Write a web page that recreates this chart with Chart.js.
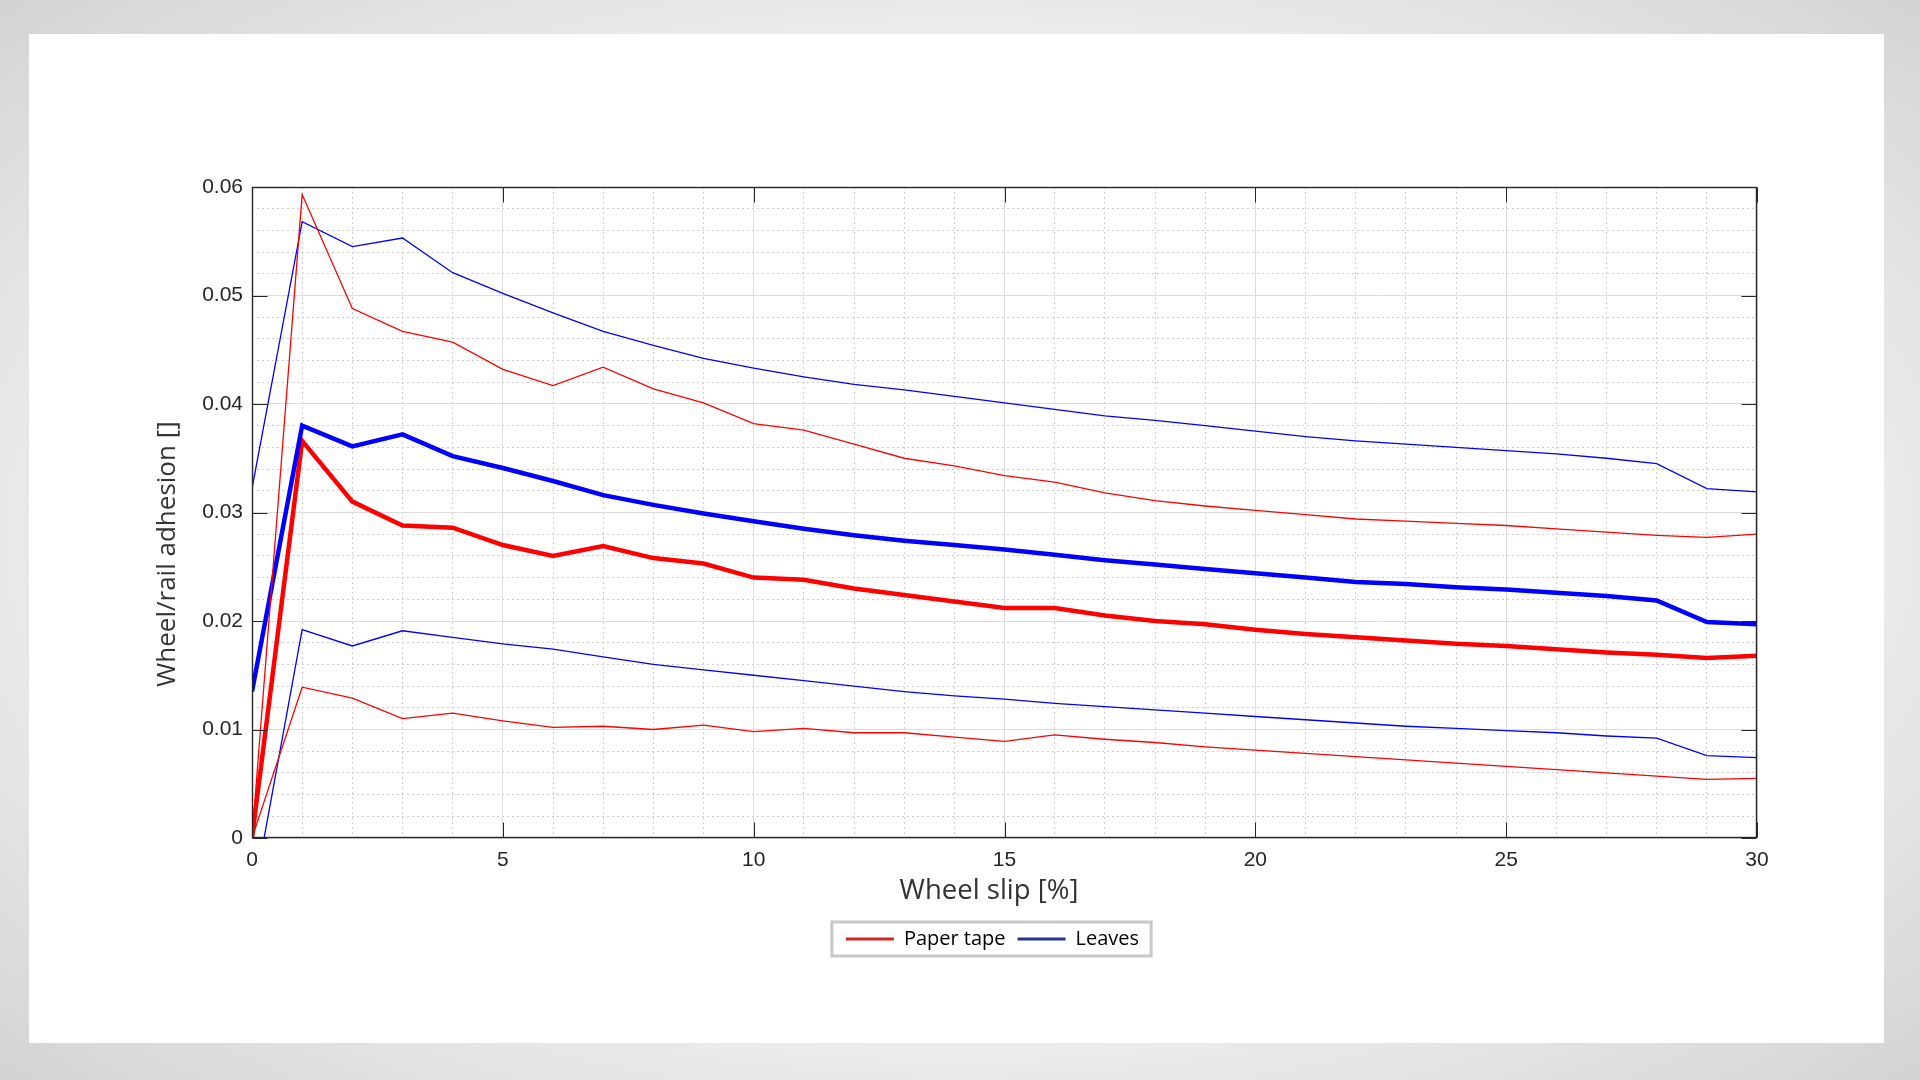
<!DOCTYPE html>
<html>
<head>
<meta charset="utf-8">
<title>Wheel/rail adhesion</title>
<script src="https://cdn.jsdelivr.net/npm/chart.js@4.4.1/dist/chart.umd.min.js"></script>
<style>
  html, body { margin: 0; padding: 0; }
  body {
    width: 1920px;
    height: 1080px;
    overflow: hidden;
    position: relative;
    background: radial-gradient(ellipse at 50% 50%, #fbfbfb 45%, #d3d3d3 100%);
  }
  .panel {
    position: absolute;
    left: 29px;
    top: 34px;
    width: 1855px;
    height: 1009px;
    background: #ffffff;
  }
  canvas { display: block; }
</style>
</head>
<body>
<div class="panel">
  <canvas id="adhesionChart" width="1855" height="1009"></canvas>
</div>
<script>
// wheel slip [%]
let slip = [0, 1, 2, 3, 4, 5, 6, 7, 8, 9, 10, 11, 12, 13, 14, 15, 16, 17, 18, 19, 20,
            21, 22, 23, 24, 25, 26, 27, 28, 29, 30];

// Paper tape: mean, upper and lower band
let paperMean  = [0, 0.0366, 0.0310, 0.0288, 0.0286, 0.0270, 0.0260, 0.0269, 0.0258, 0.0253, 0.0240,
                  0.0238, 0.0230, 0.0224, 0.0218, 0.0212, 0.0212, 0.0205, 0.0200, 0.0197, 0.0192,
                  0.0188, 0.0185, 0.0182, 0.0179, 0.0177, 0.0174, 0.0171, 0.0169, 0.0166, 0.0168];
let paperUpper = [0, 0.0593, 0.0488, 0.0467, 0.0457, 0.0432, 0.0417, 0.0434, 0.0414, 0.0401, 0.0382,
                  0.0376, 0.0363, 0.0350, 0.0343, 0.0334, 0.0328, 0.0318, 0.0311, 0.0306, 0.0302,
                  0.0298, 0.0294, 0.0292, 0.0290, 0.0288, 0.0285, 0.0282, 0.0279, 0.0277, 0.0280];
let paperLower = [0, 0.0139, 0.0129, 0.0110, 0.0115, 0.0108, 0.0102, 0.0103, 0.0100, 0.0104, 0.0098,
                  0.0101, 0.0097, 0.0097, 0.0093, 0.0089, 0.0095, 0.0091, 0.0088, 0.0084, 0.0081,
                  0.0078, 0.0075, 0.0072, 0.0069, 0.0066, 0.0063, 0.0060, 0.0057, 0.0054, 0.0055];

// Leaves: mean, upper and lower band
let leavesMean  = [0.0135, 0.0380, 0.0361, 0.0372, 0.0352, 0.0341, 0.0329, 0.0316, 0.0307, 0.0299, 0.0292,
                   0.0285, 0.0279, 0.0274, 0.0270, 0.0266, 0.0261, 0.0256, 0.0252, 0.0248, 0.0244,
                   0.0240, 0.0236, 0.0234, 0.0231, 0.0229, 0.0226, 0.0223, 0.0219, 0.0199, 0.0197];
let leavesUpper = [0.0322, 0.0568, 0.0545, 0.0553, 0.0521, 0.0502, 0.0484, 0.0467, 0.0454, 0.0442, 0.0433,
                   0.0425, 0.0418, 0.0413, 0.0407, 0.0401, 0.0395, 0.0389, 0.0385, 0.0380, 0.0375,
                   0.0370, 0.0366, 0.0363, 0.0360, 0.0357, 0.0354, 0.0350, 0.0345, 0.0322, 0.0319];
let leavesLower = [-0.0061, 0.0192, 0.0177, 0.0191, 0.0185, 0.0179, 0.0174, 0.0167, 0.0160, 0.0155, 0.0150,
                   0.0145, 0.0140, 0.0135, 0.0131, 0.0128, 0.0124, 0.0121, 0.0118, 0.0115, 0.0112,
                   0.0109, 0.0106, 0.0103, 0.0101, 0.0099, 0.0097, 0.0094, 0.0092, 0.0076, 0.0074];

let xTicks = [0, 5, 10, 15, 20, 25, 30];
let yTicks = [0, 0.01, 0.02, 0.03, 0.04, 0.05, 0.06];
let legendNames = ["Paper tape", "Leaves"];

function toPoints(values) {
    return slip.map((s, i) => ({ x: s, y: values[i] }));
}

function lineSet(label, values, color, width) {
    return {
        label: label,
        data: toPoints(values),
        borderColor: color,
        backgroundColor: color,
        borderWidth: width,
        pointRadius: 0,
        tension: 0,
        fill: false
    };
}

// inward tick marks + box around the plot
let frameTicks = {
    id: "frameTicks",
    afterDatasetsDraw(chart) {
        let ctx = chart.ctx;
        let a = chart.chartArea;
        let xs = chart.scales.x, ys = chart.scales.y;
        let l = Math.round(a.left) + 0.5, r = Math.round(a.right) - 0.5;
        let t = Math.round(a.top) + 0.5, b = Math.round(a.bottom) - 0.5;
        ctx.save();
        ctx.strokeStyle = "#262626";
        ctx.lineWidth = 1;
        ctx.beginPath();
        xTicks.forEach(v => {
            let px = Math.round(xs.getPixelForValue(v)) + 0.5;
            ctx.moveTo(px, b); ctx.lineTo(px, b - 15);
            ctx.moveTo(px, t); ctx.lineTo(px, t + 15);
        });
        yTicks.forEach(v => {
            let py = Math.round(ys.getPixelForValue(v)) + 0.5;
            ctx.moveTo(l, py); ctx.lineTo(l + 15, py);
            ctx.moveTo(r, py); ctx.lineTo(r - 15, py);
        });
        ctx.stroke();
        ctx.lineWidth = 1.4;
        ctx.strokeRect(l, t, r - l, b - t);
        ctx.restore();
    }
};

// axis titles (placed where the figure has them) and legend frame
let extras = {
    id: "extras",
    afterLayout(chart) {
        // legend in the figure sits a little left of the plot centre
        chart.legend.left -= 12;
        chart.legend.right -= 12;
    },
    afterDraw(chart) {
        let ctx = chart.ctx;
        ctx.save();
        ctx.fillStyle = "#333333";
        ctx.textAlign = "center";
        ctx.textBaseline = "middle";
        ctx.font = "27.5px 'Open Sans'";
        ctx.fillText("Wheel slip [%]", 960, 857);
        ctx.translate(139, 520);
        ctx.rotate(-Math.PI / 2);
        ctx.font = "26px 'Open Sans'";
        ctx.fillText("Wheel/rail adhesion []", 0, 0);
        ctx.restore();

        let boxes = chart.legend.legendHitBoxes;
        if (boxes && boxes.length) {
            let first = boxes[0], last = boxes[boxes.length - 1];
            let left = first.left - 14;
            let right = last.left + last.width + 12;
            let top = first.top - 7;
            let bottom = first.top + first.height + 7;
            ctx.save();
            ctx.strokeStyle = "#c8c8c8";
            ctx.lineWidth = 3;
            ctx.strokeRect(left, top, right - left, bottom - top);
            ctx.restore();
        }
    }
};

document.addEventListener("DOMContentLoaded", function () {
    let ctx = document.getElementById("adhesionChart").getContext("2d");

    new Chart(ctx, {
        type: "line",
        data: {
            datasets: [
                lineSet("Paper tape upper", paperUpper, "#ff0000", 1.3),
                lineSet("Paper tape lower", paperLower, "#ff0000", 1.3),
                lineSet("Leaves upper", leavesUpper, "#0000ff", 1.3),
                lineSet("Leaves lower", leavesLower, "#0000ff", 1.3),
                lineSet("Leaves", leavesMean, "#0000ff", 4.5),
                lineSet("Paper tape", paperMean, "#ff0000", 4.5)
            ]
        },
        options: {
            responsive: false,
            animation: false,
            events: [],
            layout: {
                padding: { top: 153, right: 127, bottom: 84, left: 0 }
            },
            scales: {
                // minor dotted grid
                xMinor: {
                    type: "linear",
                    position: "bottom",
                    min: 0,
                    max: 30,
                    ticks: { display: false, stepSize: 1 },
                    grid: { color: "#cfcfcf", lineWidth: 1, drawTicks: false },
                    border: { display: false, dash: [2, 3] },
                    afterFit: s => { s.height = 0; }
                },
                yMinor: {
                    type: "linear",
                    position: "left",
                    min: 0,
                    max: 0.06,
                    ticks: { display: false, stepSize: 0.002 },
                    grid: { color: "#cfcfcf", lineWidth: 1, drawTicks: false },
                    border: { display: false, dash: [2, 3] },
                    afterFit: s => { s.width = 0; }
                },
                x: {
                    type: "linear",
                    position: "bottom",
                    min: 0,
                    max: 30,
                    afterBuildTicks: s => { s.ticks = xTicks.map(v => ({ value: v })); },
                    ticks: {
                        padding: 10,
                        color: "#262626",
                        font: { family: "'Liberation Sans'", size: 21 },
                        callback: v => String(v)
                    },
                    grid: { color: "#dcdcdc", lineWidth: 1, drawTicks: false },
                    border: { display: false },
                    afterFit: s => { s.height = 79; }
                },
                y: {
                    type: "linear",
                    position: "left",
                    min: 0,
                    max: 0.06,
                    afterBuildTicks: s => { s.ticks = yTicks.map(v => ({ value: v })); },
                    ticks: {
                        padding: 9,
                        color: "#262626",
                        font: { family: "'Liberation Sans'", size: 21 },
                        callback: v => String(+v.toFixed(2))
                    },
                    grid: { color: "#dcdcdc", lineWidth: 1, drawTicks: false },
                    border: { display: false },
                    afterFit: s => { s.width = 223; }
                }
            },
            plugins: {
                legend: {
                    position: "bottom",
                    fullSize: false,
                    labels: {
                        boxWidth: 48,
                        boxHeight: 3,
                        padding: 12,
                        color: "#222222",
                        font: { family: "'Open Sans'", size: 20 },
                        generateLabels: function () {
                            let colors = ["#d42424", "#28338f"];
                            return legendNames.map((name, i) => ({
                                text: name,
                                fillStyle: colors[i],
                                strokeStyle: colors[i],
                                lineWidth: 0,
                                hidden: false,
                                datasetIndex: i === 0 ? 5 : 4
                            }));
                        }
                    }
                },
                tooltip: { enabled: false }
            }
        },
        plugins: [frameTicks, extras]
    });
});
</script>
</body>
</html>
